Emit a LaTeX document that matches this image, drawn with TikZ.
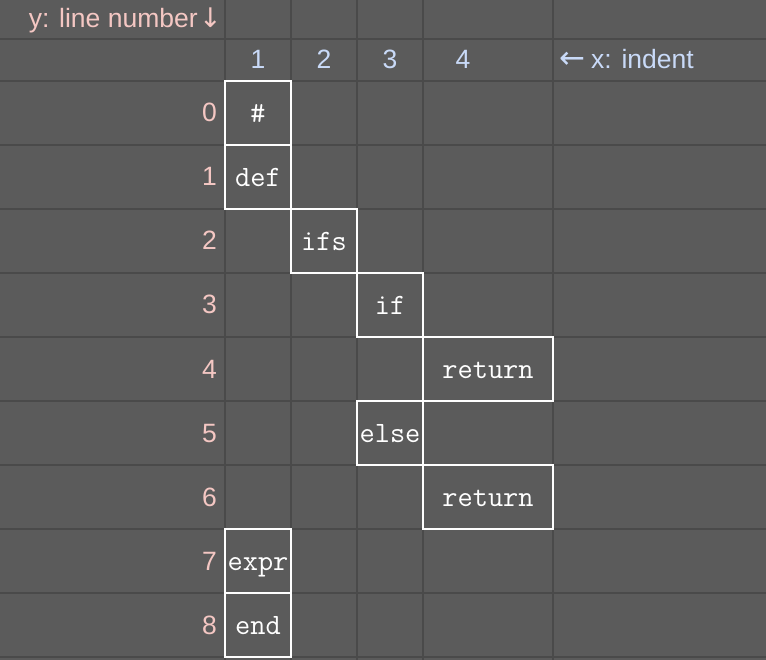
\documentclass[tikz,border=0pt]{standalone}
\usepackage{fontspec}
\setmainfont{Liberation Sans}
\newfontfamily\arrowfam{DejaVu Sans}
\definecolor{bgc}{HTML}{5B5B5B}
\definecolor{gridc}{HTML}{4A4A4A}
\definecolor{pinkc}{HTML}{F4C7C3}
\definecolor{bluec}{HTML}{C9DAF8}
\newcommand\codefont{\fontsize{29.5}{32}\selectfont\ttfamily}
\newcommand\labfont{\fontsize{26.5}{30}\selectfont}
\newcommand\arr[2]{{\fontsize{#1}{30}\selectfont\arrowfam #2}}
\begin{document}
\begin{tikzpicture}[x=1pt,y=-1pt,
  cell/.style={draw=white, line width=2pt, minimum height=64pt, minimum width=66pt,
    inner sep=0pt, text height=19pt, text depth=0pt, font=\codefont, text=white},
  widecell/.style={cell, minimum width=130pt},
  rowlab/.style={anchor=base east, text=pinkc, font=\labfont, inner sep=0pt},
  collab/.style={anchor=base, text=bluec, font=\labfont, inner sep=0pt},
  gridline/.style={draw=gridc, line width=2.5pt}]
\fill[bgc] (0,0) rectangle (766,660);
\useasboundingbox (0,0) rectangle (766,660);
% grid
\foreach \x in {225,291,357,423,553} \draw[gridline] (\x,0) -- (\x,660);
\foreach \y in {39,81,145,209,273,337,401,465,529,593,657} \draw[gridline] (0,\y) -- (766,\y);
% header
\node[anchor=base east, text=pinkc, font=\labfont, inner sep=0pt] (ylab) at (222,28) {y: line number\kern1.5pt\arr{27}{↓}};
\node[anchor=base west, text=bluec, font=\labfont, inner sep=0pt] (xlab) at (559,69) {\arr{31}{←}\kern6pt x: indent};
\node[collab] (c1) at (258,69) {1};
\node[collab] (c2) at (324,69) {2};
\node[collab] (c3) at (390,69) {3};
\node[collab] (c4) at (463,69) {4};
% row labels
\foreach \i in {0,...,8} {
  \node[rowlab] (r\i) at (217,{81+64*\i+41}) {\i};
}
% cells
\node[cell] (hash) at (258,113) {\#};
\node[cell] (def) at (258,177) {def};
\node[cell] (ifs) at (324,241) {ifs};
\node[cell] (if) at (390,305) {if};
\node[widecell] (ret1) at (488,369) {return};
\node[cell] (else) at (390,433) {else};
\node[widecell] (ret2) at (488,497) {return};
\node[cell] (expr) at (258,561) {expr};
\node[cell] (end) at (258,625) {end};
\end{tikzpicture}
\end{document}
